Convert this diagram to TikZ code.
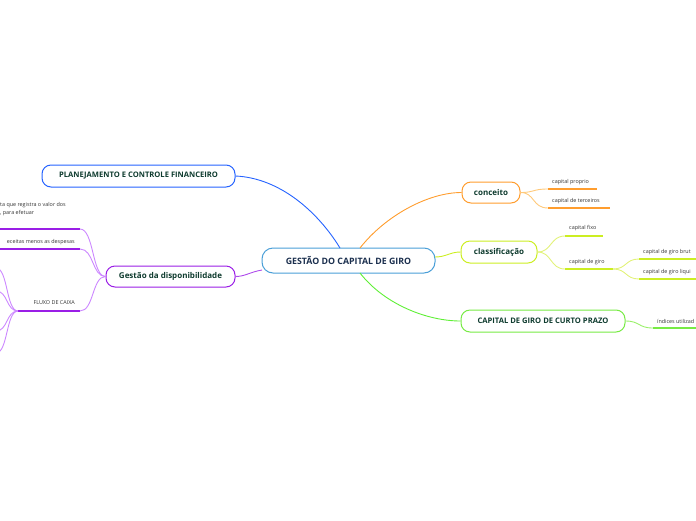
\documentclass[tikz,border=0pt]{standalone}
\usepackage{fontspec}
\setmainfont{Open Sans}
\definecolor{nodetxt}{HTML}{0E3B2E}
\definecolor{maintxt}{HTML}{1B2F4E}
\definecolor{mainbd}{HTML}{4A9FD8}
\definecolor{leaftxt}{HTML}{333333}
\definecolor{bluec}{HTML}{2563FF}
\definecolor{purpc}{HTML}{9A1EE6}
\definecolor{purpl}{HTML}{CC88FF}
\definecolor{orgc}{HTML}{FF9D2E}
\definecolor{orgl}{HTML}{FFC97A}
\definecolor{ylwc}{HTML}{CCEE22}
\definecolor{ylwl}{HTML}{E2F27A}
\definecolor{grnc}{HTML}{77EB44}
\definecolor{grnl}{HTML}{9AF06A}
\begin{document}
\begin{tikzpicture}[x=1pt,y=-1pt,
  topic/.style={draw, rounded corners=9pt, line width=1pt, fill=white,
    font=\bfseries\fontsize{7.6}{9}\selectfont, text=nodetxt, inner sep=0pt, minimum height=21pt},
  leaf/.style={font=\fontsize{5.4}{6.5}\selectfont, text=leaftxt, inner sep=0pt},
  conn/.style={line width=0.9pt},
  sub/.style={line width=1.6pt}
]
\useasboundingbox (0,0) rectangle (696,520);
\clip (0,0) rectangle (696,520);

% ---------- main topic and first-level nodes
\node[topic, draw=mainbd, text=maintxt, minimum width=173pt, minimum height=25pt,
  rounded corners=11pt, font=\bfseries\fontsize{8.8}{10}\selectfont] (main) at (348.5,260.5) {GESTÃO DO CAPITAL DE GIRO};
\node[topic, draw=bluec, minimum width=193pt, minimum height=22pt] (plan) at (138.5,176) {PLANEJAMENTO E CONTROLE FINANCEIRO};
\node[topic, draw=purpc, minimum width=129pt, font=\bfseries\fontsize{8}{9}\selectfont] (gest) at (170.5,276.5) {Gestão da disponibilidade};
\node[topic, draw=orgc, minimum width=58pt, font=\bfseries\fontsize{8}{9}\selectfont] (conc) at (491,192.5) {conceito};
\node[topic, draw=ylwc, minimum width=76pt, minimum height=22pt, font=\bfseries\fontsize{8}{9}\selectfont] (clas) at (499,252) {classificação};
\node[topic, draw=grnc, minimum width=164pt, minimum height=22pt] (curto) at (543,321) {CAPITAL DE GIRO DE CURTO PRAZO};

% ---------- anchors on the main node
\coordinate (mTopL) at (340,248);
\coordinate (mTopR) at (360,248);
\coordinate (mBot) at (360,273);
\coordinate (mLeft) at (262,270);
\coordinate (mRight) at (435,257);

\draw[conn, bluec] (mTopL) .. controls (318,212) and (280,178) .. (plan.east);
\draw[conn, orgc] (mTopR) .. controls (385,216) and (428,192.5) .. (conc.west);
\draw[conn, ylwc] (mRight) .. controls (446,257) and (450,252) .. (clas.west);
\draw[conn, grnc!80!green] (mBot) .. controls (385,305) and (428,321) .. (curto.west);
\draw[conn, purpc!80] (mLeft) .. controls (250,272) and (245,276.5) .. (gest.east);

% ---------- conceito children
\coordinate (cpA) at (548,189); \coordinate (cpB) at (597,189);
\coordinate (ctA) at (548,208); \coordinate (ctB) at (610,208);
\node[leaf, anchor=west] (cp) at (552,182) {capital proprio};
\node[leaf, anchor=west] (ct) at (552,201.5) {capital de terceiros};
\draw[sub, orgc] (cpA) -- (cpB);
\draw[sub, orgc] (ctA) -- (ctB);
\draw[conn, orgl] (conc.east) .. controls (535,192.5) and (532,189) .. (cpA);
\draw[conn, orgl] (conc.east) .. controls (535,192.5) and (532,208) .. (ctA);

% ---------- classificacao children
\coordinate (cfA) at (565,236); \coordinate (cfB) at (603,236);
\coordinate (cgA) at (565,269); \coordinate (cgB) at (613,269);
\node[leaf, anchor=west] (cf) at (569,228) {capital fixo};
\node[leaf, anchor=west] (cg) at (569,262) {capital de giro};
\draw[sub, ylwc] (cfA) -- (cfB);
\draw[sub, ylwc] (cgA) -- (cgB);
\draw[conn, ylwl] (clas.east) .. controls (552,252) and (550,236) .. (cfA);
\draw[conn, ylwl] (clas.east) .. controls (552,252) and (550,269) .. (cgA);

\coordinate (gbA) at (639,259); \coordinate (gbB) at (700,259);
\coordinate (glA) at (639,279); \coordinate (glB) at (700,279);
\node[leaf, anchor=west] (gb) at (643,252) {capital de giro brut};
\node[leaf, anchor=west] (gl) at (643,272) {capital de giro liqui};
\draw[sub, ylwc] (gbA) -- (gbB);
\draw[sub, ylwc] (glA) -- (glB);
\draw[conn, ylwl] (cgB) .. controls (627,269) and (625,259) .. (gbA);
\draw[conn, ylwl] (cgB) .. controls (627,269) and (625,279) .. (glA);

% ---------- curto prazo child
\coordinate (iuA) at (653,328); \coordinate (iuB) at (700,328);
\node[leaf, anchor=west] (iu) at (657,321) {índices utilizad};
\draw[sub, grnc] (iuA) -- (iuB);
\draw[conn, grnl] (curto.east) .. controls (640,321) and (638,328) .. (iuA);

% ---------- gestao children (left, partly outside)
\coordinate (g1A) at (-5,229); \coordinate (g1B) at (80,229);
\coordinate (g2A) at (-5,249); \coordinate (g2B) at (80,249);
\coordinate (fxA) at (18,311); \coordinate (fxB) at (80,311);
\node[leaf, anchor=west] (g1a) at (0,205) {ta que registra o valor dos};
\node[leaf, anchor=west] (g1b) at (0,213) {, para efetuar};
\node[leaf, anchor=east] (g2) at (75,242) {eceitas menos as despesas};
\node[leaf, anchor=east] (fx) at (75,303) {FLUXO DE CAIXA};
\draw[sub, purpc] (g1A) -- (g1B);
\draw[sub, purpc] (g2A) -- (g2B);
\draw[sub, purpc] (fxA) -- (fxB);
\draw[conn, purpl] (g1B) .. controls (94,229) and (92,276.5) .. (gest.west);
\draw[conn, purpl] (g2B) .. controls (94,249) and (92,276.5) .. (gest.west);
\draw[conn, purpl] (fxB) .. controls (94,311) and (92,276.5) .. (gest.west);

% fluxo de caixa children (off canvas)
\coordinate (f1) at (-4,268);
\coordinate (f2) at (-4,291);
\coordinate (f3) at (-4,331);
\coordinate (f4) at (-4,353);
\foreach \c in {f1,f2,f3,f4}
  \draw[conn, purpl] (fxA) .. controls (6,311) and (8,0|-\c) .. (\c);
\end{tikzpicture}
\end{document}
